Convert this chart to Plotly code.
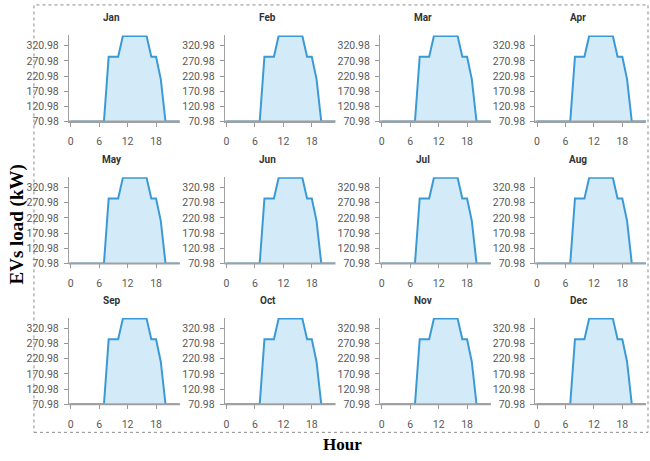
import plotly.graph_objects as go

months = ["Jan", "Feb", "Mar", "Apr", "May", "Jun",
          "Jul", "Aug", "Sep", "Oct", "Nov", "Dec"]
hours = [0, 1, 2, 3, 4, 5, 6, 7, 8, 9, 10, 11,
         12, 13, 14, 15, 16, 17, 18, 19, 20, 21, 22, 23]
ev_load = [70.98, 70.98, 70.98, 70.98, 70.98, 70.98, 70.98, 70.98,
           284.6, 284.6, 284.6, 353.0, 353.0, 353.0, 353.0, 353.0,
           353.0, 284.6, 284.6, 211.0, 70.98, 70.98, 70.98, 70.98]
y_ticks = [70.98, 120.98, 170.98, 220.98, 270.98, 320.98]
y_tick_text = ["70.98", "120.98", "170.98", "220.98", "270.98", "320.98"]
x_ticks = [0, 6, 12, 18]

W, H = 650, 461
col_left = [68, 224, 379.5, 535]
panel_w = 111
row_top = [36, 180, 323]
panel_h = 87.5

LINE = "#3b9ad6"
FILL = "rgba(196,228,247,0.75)"
AXC = "#a0a0a0"
TXT = "#595959"

fig = go.Figure()
annotations = []
shapes = [dict(type="rect", xref="paper", yref="paper",
               x0=33 / W, x1=648 / W, y0=1 - 439 / H, y1=1 - 5 / H,
               line=dict(color="#8a8a8a", width=1, dash="dot"))]
for i, m in enumerate(months):
    r, c = divmod(i, 4)
    k = "" if i == 0 else str(i + 1)
    x0 = col_left[c] / W
    x1 = (col_left[c] + panel_w) / W
    y1 = 1 - row_top[r] / H
    y0 = 1 - (row_top[r] + panel_h) / H
    fig.add_trace(go.Scatter(
        x=hours, y=ev_load, mode="lines", fill="tozeroy",
        fillcolor=FILL, line=dict(color=LINE, width=2),
        xaxis="x" + k, yaxis="y" + k, showlegend=False,
        hoverinfo="x+y"))
    fig.layout["xaxis" + k] = dict(
        domain=[x0, x1], anchor="y" + k, range=[-0.4, 23],
        tickvals=x_ticks, showgrid=False, zeroline=False,
        showline=True, linecolor=AXC, linewidth=1,
        ticks="outside", ticklen=4, tickcolor="#999999", tickwidth=1,
        ticklabelstandoff=6,
        tickfont=dict(family="Roboto", size=10.5, color=TXT))
    fig.layout["yaxis" + k] = dict(
        domain=[y0, y1], anchor="x" + k, range=[70.98, 354.5],
        tickvals=y_ticks, ticktext=y_tick_text, showgrid=False,
        zeroline=False, showline=True, linecolor=AXC, linewidth=1,
        ticks="outside", ticklen=4, tickcolor="#999999", tickwidth=1,
        ticklabelstandoff=3,
        tickfont=dict(family="Roboto", size=10.5, color=TXT))
    # grey baseline drawn over the trace so the floor reads as the axis
    shapes.append(dict(type="line", xref="paper", yref="paper",
                       x0=x0, x1=x1, y0=y0, y1=y0, layer="above",
                       line=dict(color=AXC, width=2)))
    annotations.append(dict(
        text="<b>" + m + "</b>", x=(col_left[c] + 43) / W,
        y=1 - (row_top[r] - 18) / H, xref="paper", yref="paper",
        showarrow=False, xanchor="center", yanchor="middle",
        font=dict(family="Roboto", size=10, color="#333333")))

annotations.append(dict(
    text="<b>EVs load (kW)</b>", x=16 / W, y=1 - 228 / H,
    xref="paper", yref="paper", showarrow=False, textangle=-90,
    xanchor="center", yanchor="middle",
    font=dict(family="Liberation Serif", size=19, color="black")))
annotations.append(dict(
    text="<b>Hour</b>", x=342 / W, y=1 - 451 / H,
    xref="paper", yref="paper", showarrow=False,
    xanchor="center", yanchor="middle",
    font=dict(family="Liberation Serif", size=17, color="black")))

fig.update_layout(
    width=W, height=H, margin=dict(l=0, r=0, t=0, b=0),
    paper_bgcolor="white", plot_bgcolor="white",
    annotations=annotations, shapes=shapes)

fig.write_html(
    "out.html",
    config={"displayModeBar": False},
    post_script="document.body.style.margin='0';"
                "document.body.style.overflow='hidden';")
